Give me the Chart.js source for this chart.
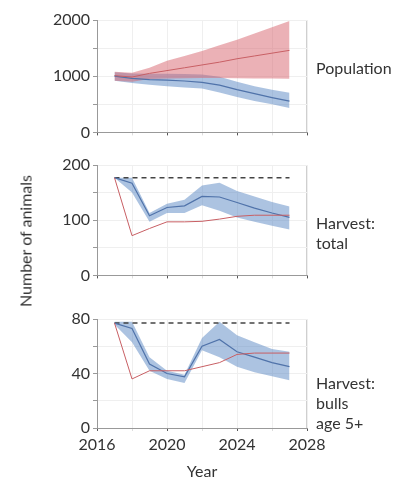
<!DOCTYPE html>
<html>
<head>
<meta charset="utf-8">
<script src="https://cdn.jsdelivr.net/npm/chart.js@4.4.1/dist/chart.umd.min.js"></script>
<style>
  body { margin: 0; background: #fff; font-family: Lato, sans-serif; color: #333; }
  #wrap { position: relative; width: 404px; height: 479px; overflow: hidden; }
  .panel { position: absolute; left: 0; width: 404px; }
  .lab { position: absolute; left: 316px; font-size: 16px; line-height: 20px; color: #333; }
  #ylab { position: absolute; left: 25px; top: 241px; font-size: 16px; color: #333;
          transform: translate(-50%, -50%) rotate(-90deg); white-space: nowrap; }
  #xlab { position: absolute; left: 202px; top: 470px; font-size: 16px; color: #333;
          transform: translate(-50%, -50%); }
</style>
</head>
<body>
<div id="wrap">
  <div class="panel" style="top:0;height:145px"><canvas id="popChart"></canvas></div>
  <div class="panel" style="top:150px;height:138px"><canvas id="harvChart"></canvas></div>
  <div class="panel" style="top:300px;height:179px"><canvas id="bullChart"></canvas></div>
  <div class="lab" style="top:58px">Population</div>
  <div class="lab" style="top:213px">Harvest:<br>total</div>
  <div class="lab" style="top:373px">Harvest:<br>bulls<br>age 5+</div>
  <div id="ylab">Number of animals</div>
  <div id="xlab">Year</div>
</div>
<script>
// years simulated
const years = [2017, 2018, 2019, 2020, 2021, 2022, 2023, 2024, 2025, 2026, 2027]
const xTickLabels = [2016, 2020, 2024, 2028]

// population
const popRedMean = [1010, 985, 1050, 1100, 1150, 1200, 1250, 1310, 1360, 1410, 1460]
const popRedHi = [1080, 1060, 1150, 1275, 1360, 1450, 1550, 1650, 1760, 1870, 1980]
const popRedLo = [920, 900, 950, 960, 965, 970, 970, 965, 960, 958, 955]
const popBlueMean = [1000, 960, 940, 930, 915, 890, 840, 760, 690, 620, 555]
const popBlueHi = [1070, 1050, 1045, 1045, 1040, 1030, 990, 900, 820, 760, 705]
const popBlueLo = [920, 880, 850, 820, 800, 780, 710, 630, 560, 500, 435]

// harvest total
const harvTarget = [177, 177, 177, 177, 177, 177, 177, 177, 177, 177, 177]
const harvRed = [177, 72, 85, 97, 97, 98, 102, 107, 109, 109, 109]
const harvBlueMean = [177, 167, 108, 123, 126, 143, 142, 132, 122, 113, 105]
const harvBlueHi = [177, 177, 113, 130, 137, 163, 168, 153, 143, 133, 125]
const harvBlueLo = [177, 150, 97, 113, 113, 127, 117, 105, 97, 90, 83]

// harvest bulls age 5+
const bullTarget = [77, 77, 77, 77, 77, 77, 77, 77, 77, 77, 77]
const bullRed = [77, 36, 42, 42, 42, 45, 48, 54, 55, 55, 55]
const bullBlueMean = [77, 73, 47, 40, 37.5, 60, 65, 56, 52, 48, 45]
const bullBlueHi = [78, 78, 52, 42, 39, 66, 78, 68, 63, 58, 56]
const bullBlueLo = [76, 63, 42, 36, 33, 57, 52, 45, 41, 38, 35]

Chart.defaults.font.family = 'Lato'
Chart.defaults.font.size = 16
Chart.defaults.color = '#333'

const RED_LINE = 'rgba(200, 95, 100, 1)'
const RED_BAND = 'rgba(215, 100, 110, 0.5)'
const BLUE_LINE = 'rgba(80, 115, 170, 1)'
const BLUE_BAND = 'rgba(90, 135, 195, 0.5)'

function pts(arr) {
  return years.map((x, i) => ({ x: x, y: arr[i] }))
}

function line(arr, color, width, extra) {
  return Object.assign({
    data: pts(arr), borderColor: color, borderWidth: width,
    pointRadius: 0, fill: false, tension: 0,
  }, extra || {})
}

// light frame on top and right of the plot
const framePlugin = {
  id: 'frame',
  beforeDraw(chart) {
    const a = chart.chartArea, ctx = chart.ctx
    ctx.save()
    ctx.strokeStyle = '#cfcfcf'
    ctx.lineWidth = 1
    ctx.beginPath()
    ctx.moveTo(a.left, a.top + 0.5)
    ctx.lineTo(a.right - 0.5, a.top + 0.5)
    ctx.lineTo(a.right - 0.5, a.bottom)
    ctx.stroke()
    ctx.restore()
  },
}

function makePanel(id, datasets, yMax, yStep, yLabelStep, padTop, xHeight, showX) {
  const ctx = document.getElementById(id).getContext('2d')
  return new Chart(ctx, {
    type: 'line',
    data: { datasets: datasets },
    plugins: [framePlugin],
    options: {
      animation: false,
      responsive: true,
      maintainAspectRatio: false,
      layout: { padding: { top: padTop, right: 97, left: 0, bottom: 0 } },
      plugins: { legend: { display: false }, tooltip: { enabled: false } },
      scales: {
        x: {
          type: 'linear', min: 2016, max: 2028,
          afterFit: (s) => { s.height = xHeight },
          grid: {
            color: '#efefef', tickLength: 3,
            tickColor: (c) => (c.tick && xTickLabels.includes(c.tick.value) ? '#555' : '#ddd'),
          },
          border: { color: '#999' },
          ticks: {
            display: showX, stepSize: 2, autoSkip: false, maxRotation: 0, padding: 4,
            callback: (v) => (xTickLabels.includes(v) ? String(v) : ''),
          },
        },
        y: {
          min: 0, max: yMax,
          afterFit: (s) => { s.width = 97 },
          grid: { color: '#efefef', tickLength: 4, tickColor: '#999' },
          border: { color: '#999' },
          ticks: {
            stepSize: yStep, autoSkip: false, padding: 3,
            callback: (v) => (v % yLabelStep === 0 ? String(v) : ''),
          },
        },
      },
    },
  })
}

makePanel('popChart', [
  line(popRedMean, RED_LINE, 1),
  line(popBlueMean, BLUE_LINE, 1.2),
  line(popRedHi, 'rgba(0,0,0,0)', 0, { fill: '+1', backgroundColor: RED_BAND }),
  line(popRedLo, 'rgba(0,0,0,0)', 0),
  line(popBlueHi, 'rgba(0,0,0,0)', 0, { fill: '+1', backgroundColor: BLUE_BAND }),
  line(popBlueLo, 'rgba(0,0,0,0)', 0),
], 2000, 500, 1000, 20, 10, false)

makePanel('harvChart', [
  line(harvRed, RED_LINE, 1),
  line(harvBlueMean, BLUE_LINE, 1.2),
  line(harvTarget, '#444', 1.5, { borderDash: [5, 4] }),
  line(harvBlueHi, 'rgba(0,0,0,0)', 0, { fill: '+1', backgroundColor: BLUE_BAND }),
  line(harvBlueLo, 'rgba(0,0,0,0)', 0),
], 200, 50, 100, 15, 10, false)

makePanel('bullChart', [
  line(bullRed, RED_LINE, 1),
  line(bullBlueMean, BLUE_LINE, 1.2),
  line(bullTarget, '#444', 1.5, { borderDash: [5, 4] }),
  line(bullBlueHi, 'rgba(0,0,0,0)', 0, { fill: '+1', backgroundColor: BLUE_BAND }),
  line(bullBlueLo, 'rgba(0,0,0,0)', 0),
], 80, 20, 40, 19, 51, true)
</script>
</body>
</html>
